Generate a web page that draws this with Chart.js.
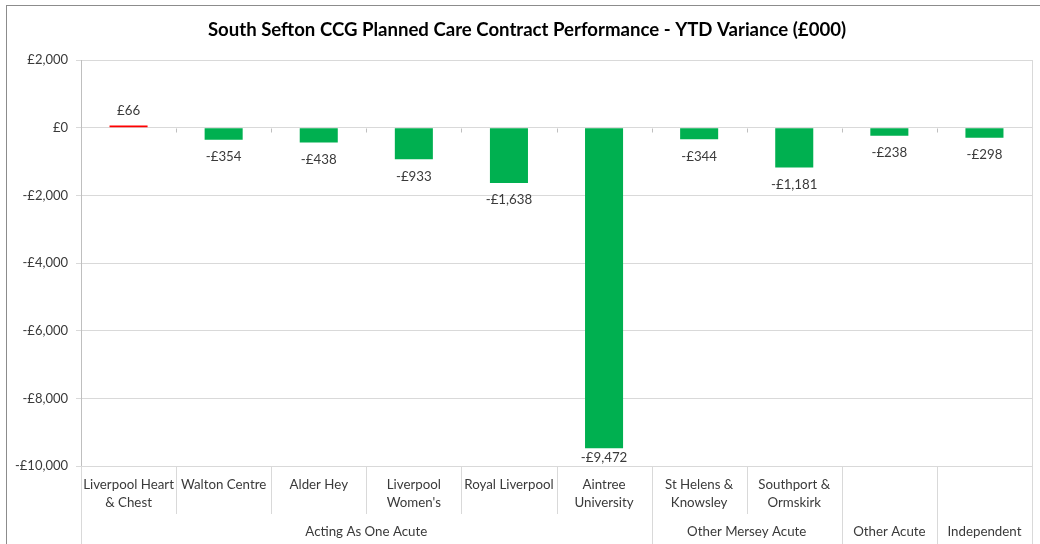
<html>
<head>
<meta charset="utf-8">
<script src="https://cdn.jsdelivr.net/npm/chart.js"></script>
<title>South Sefton CCG</title>
<style>
  body { margin: 0; background: #fff; }
  #wrap { position: relative; width: 1040px; height: 544px; }
</style>
</head>
<body>
<div id="wrap"><canvas id="chart"></canvas></div>
<script>
const chartTitle = "South Sefton CCG Planned Care Contract Performance - YTD Variance (£000)";
const categories = [
  ["Liverpool Heart", "& Chest"],
  ["Walton Centre"],
  ["Alder Hey"],
  ["Liverpool", "Women's"],
  ["Royal Liverpool"],
  ["Aintree", "University"],
  ["St Helens &", "Knowsley"],
  ["Southport &", "Ormskirk"],
  [""],
  [""]
];
const groupNames = ["Acting As One Acute", "Other Mersey Acute", "Other Acute", "Independent"];
const groupSizes = [6, 2, 1, 1];
const variance = [66, -354, -438, -933, -1638, -9472, -344, -1181, -238, -298];
const yMin = -10000, yMax = 2000, yStep = 2000;

const FONT = "Lato, 'Open Sans', sans-serif";
const TEXT = "#3a3a3a";

function money(v) {
  const s = "£" + Math.abs(v).toLocaleString("en-GB");
  return v < 0 ? "-" + s : s;
}

// frame, title, data labels and the two-row category axis, drawn the Excel way
const excelBits = {
  id: "excelBits",
  beforeDraw(chart) {
    const ctx = chart.ctx;
    ctx.save();
    ctx.fillStyle = "#fff";
    ctx.fillRect(0, 0, chart.width, chart.height);
    ctx.strokeStyle = "#8c8c8c";
    ctx.lineWidth = 1;
    ctx.strokeRect(6.5, 5.5, chart.width, chart.height);
    ctx.fillStyle = "#000";
    ctx.font = "bold 18.6px " + FONT;
    ctx.textAlign = "center";
    ctx.textBaseline = "middle";
    ctx.fillText(chartTitle, 527, 30);
    ctx.restore();
  },
  afterDraw(chart) {
    const ctx = chart.ctx;
    const area = chart.chartArea;
    const xs = chart.scales.x, ys = chart.scales.y;
    const step = xs.getPixelForValue(1) - xs.getPixelForValue(0);
    const y0 = Math.round(ys.getPixelForValue(0)) + 0.5;
    ctx.save();
    ctx.lineWidth = 1;

    // zero line ticks
    ctx.strokeStyle = "#bfbfbf";
    for (let i = 1; i < categories.length; i++) {
      const bx = Math.round(xs.getPixelForValue(i) - step / 2) + 0.5;
      ctx.beginPath(); ctx.moveTo(bx, y0); ctx.lineTo(bx, y0 + 4); ctx.stroke();
    }

    // right border of the plot
    const rx = Math.round(area.right) + 0.5;
    ctx.strokeStyle = "#d9d9d9";
    ctx.beginPath(); ctx.moveTo(rx, area.top); ctx.lineTo(rx, chart.height); ctx.stroke();

    // category separators: long at group edges, short inside groups
    const edges = [0];
    groupSizes.reduce((a, n) => { edges.push(a + n); return a + n; }, 0);
    ctx.strokeStyle = "#d9d9d9";
    for (let i = 0; i < categories.length; i++) {
      const bx = Math.round(xs.getPixelForValue(i) - step / 2) + 0.5;
      const end = edges.includes(i) ? chart.height : area.bottom + 48;
      ctx.beginPath(); ctx.moveTo(bx, area.bottom); ctx.lineTo(bx, end); ctx.stroke();
    }

    // category labels
    ctx.fillStyle = TEXT;
    ctx.font = "13.3px " + FONT;
    ctx.textAlign = "center";
    ctx.textBaseline = "middle";
    categories.forEach((lines, i) => {
      const cx = xs.getPixelForValue(i);
      lines.forEach((t, k) => ctx.fillText(t, cx, area.bottom + 19 + k * 18));
    });

    // group labels
    let start = 0;
    groupNames.forEach((g, j) => {
      const a = xs.getPixelForValue(start) - step / 2;
      const b = xs.getPixelForValue(start + groupSizes[j] - 1) + step / 2;
      ctx.fillText(g, (a + b) / 2, area.bottom + 66);
      start += groupSizes[j];
    });

    // data labels
    const meta = chart.getDatasetMeta(0);
    meta.data.forEach((bar, i) => {
      const v = variance[i];
      const ly = v >= 0 ? bar.y - 15 : Math.min(bar.y + 17, area.bottom - 8);
      ctx.fillText(money(v), bar.x, ly);
    });
    ctx.restore();
  }
};

new Chart(document.getElementById("chart"), {
  type: "bar",
  data: {
    labels: categories.map(c => c.join(" ")),
    datasets: [{
      data: variance,
      backgroundColor: variance.map(v => v >= 0 ? "#ff0000" : "#00b050"),
      barPercentage: 0.8,
      categoryPercentage: 0.5
    }]
  },
  options: {
    responsive: true,
    maintainAspectRatio: false,
    animation: false,
    layout: { padding: { top: 60, right: 8, left: 0, bottom: 0 } },
    plugins: {
      legend: { display: false },
      title: { display: false },
      tooltip: { enabled: false }
    },
    scales: {
      x: {
        offset: true,
        grid: { display: false },
        border: { display: false },
        ticks: { display: false },
        afterFit(scale) { scale.height = 78; }
      },
      y: {
        min: yMin,
        max: yMax,
        ticks: {
          stepSize: yStep,
          padding: 8,
          color: TEXT,
          font: { family: FONT, size: 13 },
          callback: v => money(v)
        },
        grid: { color: "#d9d9d9", tickLength: 5 },
        border: { color: "#bfbfbf" },
        afterFit(scale) { scale.width = 81; }
      }
    }
  },
  plugins: [excelBits]
});
</script>
</body>
</html>
